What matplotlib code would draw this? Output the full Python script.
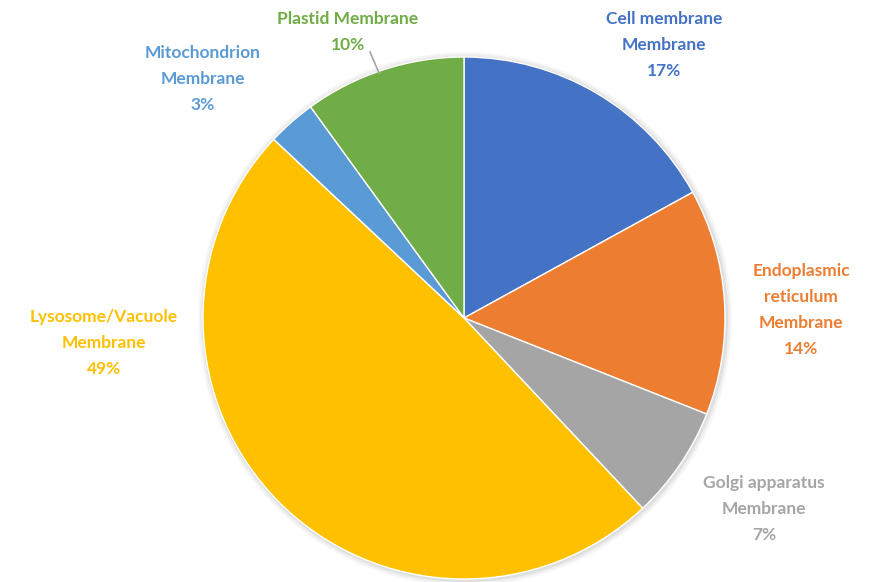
import matplotlib.pyplot as plt
from matplotlib.patches import Circle

# membrane share by organelle, clockwise from 12 o'clock
labels = ["Cell membrane\nMembrane", "Endoplasmic\nreticulum\nMembrane",
          "Golgi apparatus\nMembrane", "Lysosome/Vacuole\nMembrane",
          "Mitochondrion\nMembrane", "Plastid Membrane"]
shares = [17, 14, 7, 49, 3, 10]
colors = ["#4472C4", "#ED7D31", "#A5A5A5", "#FFC000", "#5B9BD5", "#70AD47"]

W, H = 878, 582
fig = plt.figure(figsize=(W / 100, H / 100), dpi=100, facecolor="white")
ax = fig.add_axes([0, 0, 1, 1])

cx, cy, r = 464, H - 318, 261

# soft drop shadow under the pie
for k, a in [(6, 0.03), (4, 0.04), (2, 0.06)]:
    ax.add_patch(Circle((cx + 1, cy - 1), r + k, color="#000000", alpha=a, lw=0, zorder=0))

ax.pie(shares, colors=colors, startangle=90, counterclock=False,
       center=(cx, cy), radius=r,
       wedgeprops=dict(edgecolor="white", linewidth=1.0, zorder=2))

ax.set_xlim(0, W)
ax.set_ylim(0, H)
ax.set_aspect("equal")
ax.axis("off")

# label anchor points (centre of first line), pixels from top-left
label_pos = [(664, 18), (801, 270), (764, 482), (104, 316), (203, 52), (348, 18)]
for lab, s, c, (x, y) in zip(labels, shares, colors, label_pos):
    ax.text(x, H - y + 7, f"{lab}\n{s}%", color=c, ha="center", va="top",
            fontsize=12.5, fontweight="bold", family="Lato",
            linespacing=1.76, transform=ax.transData)

# leader line for the plastid label
ax.plot([370, 379], [H - 52, H - 73], color="#A5A5A5", lw=1.2, zorder=3)

fig.savefig("out.png", dpi=100, facecolor="white")
